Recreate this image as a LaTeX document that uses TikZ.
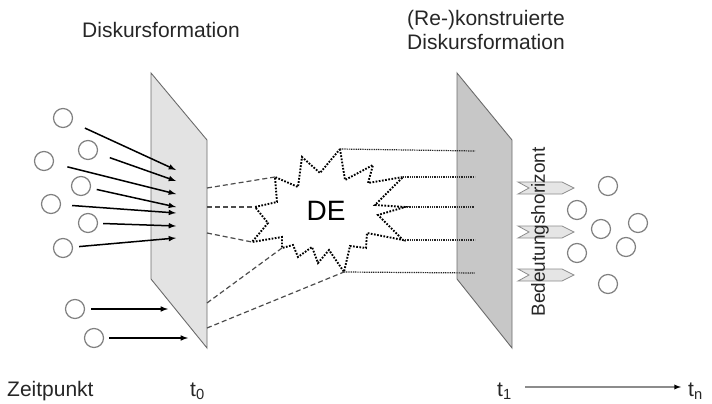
\documentclass[tikz,border=0pt]{standalone}
\usepackage{fontspec}
\setmainfont{Liberation Sans}
\usetikzlibrary{arrows}
\definecolor{planelight}{rgb}{0.89,0.89,0.89}
\definecolor{planedark}{rgb}{0.78,0.78,0.78}
\definecolor{edgegray}{rgb}{0.42,0.42,0.42}
\definecolor{ringgray}{rgb}{0.50,0.50,0.50}
\newcommand{\labfont}{\fontsize{21}{24}\selectfont}

\begin{document}
\begin{tikzpicture}[>=latex, x=1pt, y=-1pt,
    elem/.style={draw=ringgray, line width=1.2pt, circle, minimum size=19pt, inner sep=0pt},
    plane/.style={draw=edgegray, line width=0.9pt},
    feed/.style={black, line width=1.5pt, ->},
    proj/.style={black!70, line width=1.2pt, dash pattern=on 5pt off 3pt},
    recon/.style={black!85, line width=1.2pt, dash pattern=on 1pt off 0.8pt},
    burst/.style={black, line width=1.9pt, dash pattern=on 1.7pt off 1.5pt},
    horiz/.style={draw=black!45, fill=black!10, line width=0.8pt},
    lab/.style={text=black!85, font=\labfont, inner sep=0pt}]
\useasboundingbox (0,0) rectangle (712,404);

% Flaechen
\filldraw[plane, fill=planelight] (151,73) -- (207,140) -- (207,348) -- (151,279) -- cycle;
\filldraw[plane, fill=planedark] (457,73) -- (512,140) -- (512,348) -- (457,279) -- cycle;

% Elemente links
\foreach \n/\x/\y in {1/63/118, 2/88/150, 3/44/161, 4/81/186, 5/51/204,
                      6/88/223, 7/63/248, 8/75/309, 9/94/338}
    \node[elem] (c\n) at (\x,\y) {};
\foreach \n/\x/\y/\g in {1/176/170/14, 2/176/181/13, 3/176/194/14, 4/176/207/6,
                         5/176/213/11, 6/176/226/5, 7/176/238/6, 8/168/309/6, 9/188/338/5}
{
    \coordinate (e\n) at (\x,\y);
    \draw[feed, shorten <=\g pt] (c\n) -- (e\n);
}

% Diskursereignis
\draw[burst] (340,149) coordinate (sT) -- (345,180) -- (373,165) -- (368,183)
    -- (403,177) coordinate (sF) -- (375,205) -- (405,207) coordinate (sG) -- (378,215)
    -- (403,240) coordinate (sH) -- (367,233) -- (366,248) -- (350,246)
    -- (344,272) coordinate (sE) -- (329,250) -- (318,263) -- (312,247) -- (298,257)
    -- (293,245) -- (282,248) coordinate (sD) -- (282,237) -- (252,242) coordinate (sC)
    -- (268,223) -- (255,207) coordinate (sB) -- (277,202) -- (275,177) coordinate (sA)
    -- (298,187) -- (302,157) -- (320,173) -- cycle;
\node[font=\fontsize{28}{30}\selectfont, inner sep=0pt] (de) at (326,211) {DE};

\foreach \n/\y/\s in {1/188/A, 2/207/B, 3/233/C, 4/303/D, 5/328/E}
{
    \coordinate (l\n) at (207,\y);
    \draw[proj] (l\n) -- (s\s);
}
\foreach \n/\y/\s in {1/151/T, 2/177/F, 3/207/G, 4/240/H, 5/273/E}
{
    \coordinate (r\n) at (475,\y);
    \draw[recon] (s\s) -- (r\n);
}

% Bedeutungshorizont
\foreach \y in {188,232,275}
    \filldraw[horiz] (518,\y-6) -- (562,\y-6) -- (574,\y) -- (562,\y+6) -- (518,\y+6)
        -- (529,\y) -- cycle;
\node[lab, font=\fontsize{19}{22}\selectfont, rotate=90] (bh) at (540,232) {Bedeutungshorizont};

% Elemente rechts
\foreach \n/\x/\y in {1/608/186, 2/577/210, 3/638/223, 4/601/229, 5/626/247,
                      6/577/253, 7/608/284}
    \node[elem] (d\n) at (\x,\y) {};

% Beschriftungen
\node[lab, anchor=base west] (df) at (82,38) {Diskursformation};
\node[lab, anchor=base west] (rk) at (407,26) {(Re-)konstruierte};
\node[lab, anchor=base west] (rd) at (407,50) {Diskursformation};
\node[lab, anchor=base west] (zp) at (7,396) {Zeitpunkt};
\node[lab, anchor=base west] (t0) at (190,396) {t\textsubscript{0}};
\node[lab, anchor=base west] (t1) at (497,396) {t\textsubscript{1}};
\node[lab, anchor=base west] (tn) at (688,396) {t\textsubscript{n}};
\coordinate (ta) at (525,387);
\coordinate (tb) at (681,387);
\draw[black!45, line width=1.3pt, -{latex[black]}] (ta) -- (tb);
\end{tikzpicture}
\end{document}
